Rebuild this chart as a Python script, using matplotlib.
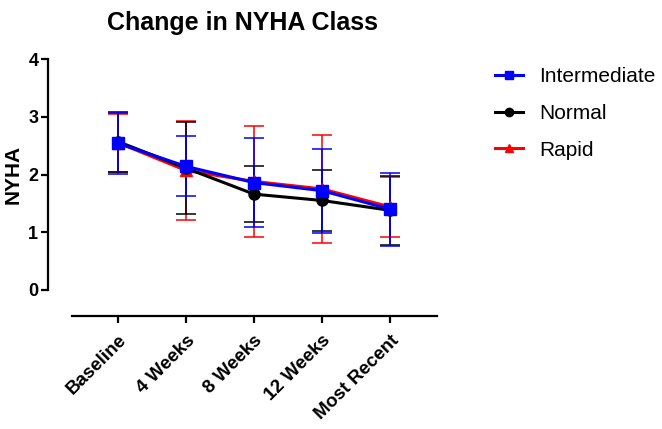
import numpy as np
import matplotlib.pyplot as plt
from matplotlib.lines import Line2D

plt.rcParams['font.family'] = ['Liberation Sans', 'DejaVu Sans']

# datos
periodos = ['Baseline', '4 Weeks', '8 Weeks', '12 Weeks', 'Most Recent']
rapid_media = [2.55, 2.07, 1.88, 1.75, 1.44]
rapid_err = [0.50, 0.86, 0.96, 0.93, 0.52]
normal_media = [2.57, 2.11, 1.66, 1.55, 1.38]
normal_err = [0.52, 0.80, 0.49, 0.52, 0.60]
inter_media = [2.54, 2.14, 1.86, 1.72, 1.40]
inter_err = [0.53, 0.52, 0.77, 0.73, 0.63]

series = [
    ('Rapid', rapid_media, rapid_err, '#ff0000', '^', 8),
    ('Normal', normal_media, normal_err, '#000000', 'o', 8),
    ('Intermediate', inter_media, inter_err, '#0000ff', 's', 8),
]

fig = plt.figure(figsize=(6.62, 4.29), dpi=100)
ax = fig.add_axes([48/662, 1-290/429, (437-48)/662, (290-59)/429])

x = np.arange(len(periodos))
for nombre, media, err, color, marca, ms in series:
    ax.errorbar(x, media, yerr=err, color=color, marker=marca, markersize=ms,
                lw=2.2, elinewidth=1.1, capsize=7, capthick=1.1, label=nombre)

ax.set_ylim(0, 4)
ax.set_xlim((48-118)/68, (437-118)/68)
ax.set_yticks([0, 1, 2, 3, 4])
ax.set_xticks(x)

ax.spines['top'].set_visible(False)
ax.spines['right'].set_visible(False)
ax.spines['left'].set_linewidth(1.6)
ax.spines['bottom'].set_linewidth(1.6)
ax.spines['bottom'].set_position(('outward', 19))
ax.spines['bottom'].set_bounds((72-118)/68, (437-118)/68)
ax.tick_params(axis='both', width=1.6, length=5, pad=2)
ax.tick_params(axis='x', pad=6)

ax.set_xticklabels(periodos)
plt.setp(ax.get_xticklabels(), rotation=45, ha='right', rotation_mode='anchor',
         fontsize=13.5, fontweight='bold')
plt.setp(ax.get_yticklabels(), fontsize=13, fontweight='bold')

ax.set_ylabel('NYHA', fontsize=15, fontweight='bold', labelpad=4)
ax.set_title('Change in NYHA Class', fontsize=18, fontweight='bold', pad=21)

# referencia
handles = [
    Line2D([], [], color='#0000ff', marker='s', markersize=6, lw=2.2),
    Line2D([], [], color='#000000', marker='o', markersize=6, lw=2.2),
    Line2D([], [], color='#ff0000', marker='^', markersize=6, lw=2.2),
]
fig.legend(handles, ['Intermediate', 'Normal', 'Rapid'], loc='upper left',
           bbox_to_anchor=(487/662, 1-59/429), frameon=False, fontsize=15,
           borderaxespad=0, handlelength=1.35, handletextpad=0.77,
           labelspacing=0.85)

fig.savefig('out.png', dpi=100)
